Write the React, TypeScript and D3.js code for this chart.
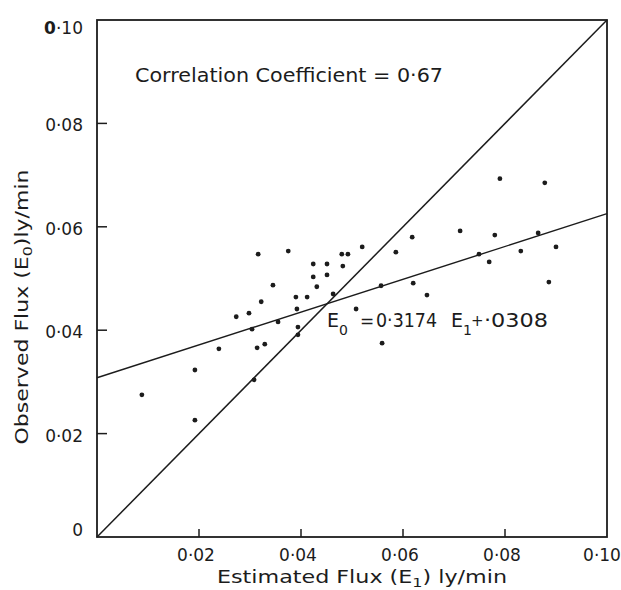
import React from "react";
import * as d3 from "d3";

// Estimated flux E1 (ly/min) and observed flux E0 (ly/min)
const estimated = [
  0.0088, 0.0192, 0.0192, 0.0239, 0.0273, 0.0298, 0.0304, 0.0322, 0.0314, 0.0329,
  0.0308, 0.0355, 0.039, 0.0412, 0.0392, 0.0394, 0.0394, 0.0316, 0.0375, 0.048,
  0.0492, 0.052, 0.0424, 0.0451, 0.0424, 0.0451, 0.0482, 0.0345, 0.0431, 0.0463,
  0.0508, 0.0618, 0.0712, 0.0586, 0.0749, 0.0769, 0.0557, 0.062, 0.0647, 0.0559,
  0.079, 0.0878, 0.078, 0.0865, 0.0831, 0.09, 0.0886,
];
const observed = [
  0.0275, 0.0323, 0.0226, 0.0364, 0.0426, 0.0433, 0.0402, 0.0455, 0.0366, 0.0373,
  0.0304, 0.0416, 0.0464, 0.0464, 0.0441, 0.0406, 0.0391, 0.0547, 0.0553, 0.0547,
  0.0547, 0.0561, 0.0528, 0.0528, 0.0503, 0.0507, 0.0524, 0.0487, 0.0484, 0.047,
  0.0441, 0.058, 0.0592, 0.0551, 0.0547, 0.0532, 0.0486, 0.0491, 0.0468, 0.0375,
  0.0693, 0.0685, 0.0584, 0.0588, 0.0553, 0.0561, 0.0493,
];
const xTicks = [0.02, 0.04, 0.06, 0.08, 0.1];
const xTickLabels = ["0·02", "0·04", "0·06", "0·08", "0·10"];
const yTicks = [0, 0.02, 0.04, 0.06, 0.08, 0.1];
const yTickLabels = ["0", "0·02", "0·04", "0·06", "0·08", "0·10"];
const slope = 0.3174;
const intercept = 0.0308;
const domain = [0, 0.1];

const INK = "#1c1c1c";
const FONT = "'DejaVu Sans', sans-serif";

export default function App() {
  const x = d3.scaleLinear().domain(domain).range([97, 607]);
  const y = d3.scaleLinear().domain(domain).range([537, 20]);
  const line = d3
    .line<[number, number]>()
    .x((d) => x(d[0]))
    .y((d) => y(d[1]));
  const diag: [number, number][] = [
    [domain[0], domain[0]],
    [domain[1], domain[1]],
  ];
  const reg: [number, number][] = domain.map((v) => [v, slope * v + intercept]);
  const points = estimated.map((e, i) => [e, observed[i]] as [number, number]);

  return (
    <svg
      width={621}
      height={590}
      style={{ position: "absolute", left: 0, top: 0, background: "#fff" }}
    >
      <rect x={0} y={0} width={621} height={590} fill="#fff" />
      {/* frame */}
      <rect
        x={x(0)}
        y={y(0.1)}
        width={x(0.1) - x(0)}
        height={y(0) - y(0.1)}
        fill="none"
        stroke={INK}
        strokeWidth={1.8}
      />
      {/* ticks */}
      {yTicks.slice(1, -1).map((t) => (
        <line key={"yt" + t} x1={x(0)} x2={x(0) + 10} y1={y(t)} y2={y(t)} stroke={INK} strokeWidth={1.5} />
      ))}
      {xTicks.slice(0, -1).map((t) => (
        <line key={"xt" + t} x1={x(t)} x2={x(t)} y1={y(0)} y2={y(0) - 8} stroke={INK} strokeWidth={1.5} />
      ))}
      {/* tick labels */}
      {yTicks.map((t, i) => (
        <text
          key={"yl" + t}
          x={83}
          y={y(t) + (t === 0 ? -1 : t === 0.1 ? 14 : 8)}
          textAnchor="end"
          fontFamily={FONT}
          fontSize={17}
          fill={INK}
        >
          {t === 0.1 ? (
            <>
              <tspan fontWeight="bold">0</tspan>
              {yTickLabels[i].slice(1)}
            </>
          ) : (
            yTickLabels[i]
          )}
        </text>
      ))}
      {xTicks.map((t, i) => (
        <text
          key={"xl" + t}
          x={t === 0.1 ? x(t) - 5 : x(t) - 3}
          y={561}
          textAnchor="middle"
          fontFamily={FONT}
          fontSize={17}
          fill={INK}
        >
          {xTickLabels[i]}
        </text>
      ))}
      {/* lines */}
      <path d={line(diag) || ""} fill="none" stroke={INK} strokeWidth={1.5} />
      <path d={line(reg) || ""} fill="none" stroke={INK} strokeWidth={1.4} />
      {/* points */}
      {points.map((p, i) => (
        <circle key={i} cx={x(p[0])} cy={y(p[1])} r={2.4} fill={INK} />
      ))}
      {/* annotations */}
      <text
        x={135}
        y={82}
        fontFamily={FONT}
        fontSize={19}
        fill={INK}
        textLength={308}
        lengthAdjust="spacingAndGlyphs"
      >
        Correlation Coefficient = 0·67
      </text>
      <g fontFamily={FONT} fill={INK}>
        <text x={327} y={327} fontSize={19}>E</text>
        <text x={339} y={335} fontSize={14}>0</text>
        <text x={360} y={327} fontSize={17}>=</text>
        <text x={376} y={327} fontSize={19} textLength={61} lengthAdjust="spacingAndGlyphs">0·3174</text>
        <text x={451} y={327} fontSize={19}>E</text>
        <text x={463} y={335} fontSize={14}>1</text>
        <text x={471} y={326} fontSize={15}>+</text>
        <text x={484} y={327} fontSize={19} textLength={64} lengthAdjust="spacingAndGlyphs">·0308</text>
      </g>
      {/* axis titles */}
      <text
        x={217}
        y={583}
        fontFamily={FONT}
        fontSize={18}
        fill={INK}
        textLength={290}
        lengthAdjust="spacingAndGlyphs"
      >
        Estimated Flux (E<tspan fontSize={13} dy={4}>1</tspan>
        <tspan dy={-4}>) ly/min</tspan>
      </text>
      <text
        transform="translate(28,307) rotate(-90)"
        textAnchor="middle"
        fontFamily={FONT}
        fontSize={18}
        fill={INK}
        textLength={275}
        lengthAdjust="spacingAndGlyphs"
      >
        Observed Flux (E<tspan fontSize={13} dy={4}>0</tspan>
        <tspan dy={-4}>)ly/min</tspan>
      </text>
    </svg>
  );
}
